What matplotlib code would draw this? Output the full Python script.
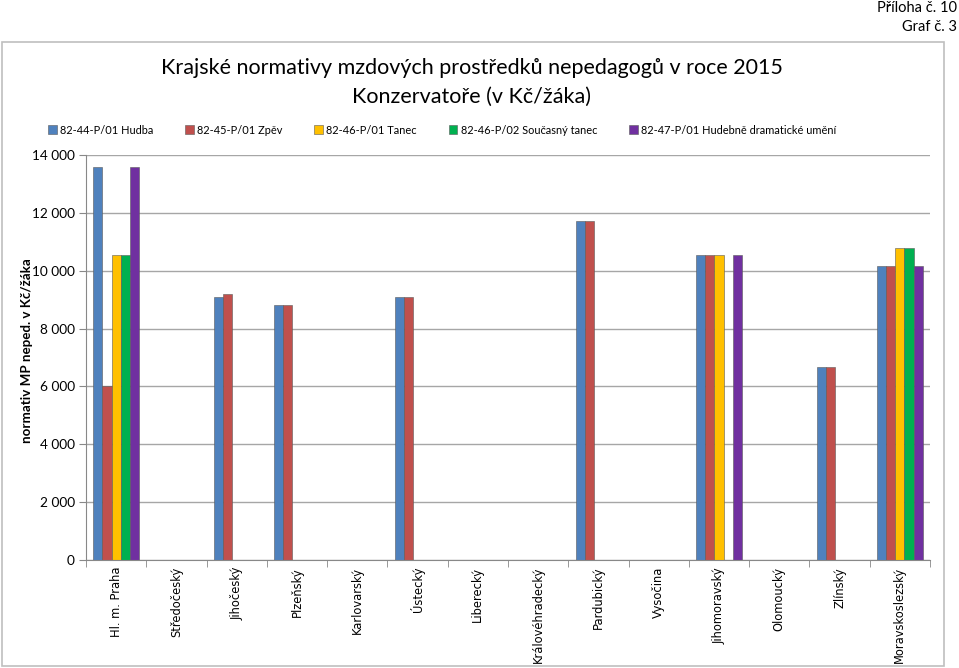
import matplotlib
matplotlib.use("Agg")
import matplotlib.pyplot as plt
import numpy as np
from matplotlib.patches import Rectangle

categories = ["Hl. m. Praha", "Středočeský", "Jihočeský", "Plzeňský", "Karlovarský",
              "Ústecký", "Liberecký", "Královéhradecký", "Pardubický", "Vysočina",
              "Jihomoravský", "Olomoucký", "Zlínský", "Moravskoslezský"]
nan = np.nan
hudba    = [13570, nan, 9085, 8830, nan, 9080, nan, nan, 11710, nan, 10550, nan, 6680, 10170]
zpev     = [6030,  nan, 9180, 8830, nan, 9080, nan, nan, 11710, nan, 10550, nan, 6680, 10170]
tanec    = [10550, nan, nan,  nan,  nan, nan,  nan, nan, nan,   nan, 10550, nan, nan,  10800]
soucasny = [10550, nan, nan,  nan,  nan, nan,  nan, nan, nan,   nan, nan,   nan, nan,  10800]
hdu      = [13570, nan, nan,  nan,  nan, nan,  nan, nan, nan,   nan, 10550, nan, nan,  10170]
series_names = ["82-44-P/01 Hudba", "82-45-P/01 Zpěv", "82-46-P/01 Tanec",
                "82-46-P/02 Současný tanec", "82-47-P/01 Hudebně dramatické umění"]
colors = ["#4F81BD", "#C0504D", "#FFC000", "#00B050", "#7030A0"]
yticks = [0, 2000, 4000, 6000, 8000, 10000, 12000, 14000]
ytick_labels = ["0", "2 000", "4 000", "6 000", "8 000", "10 000", "12 000", "14 000"]

W, H = 959, 668
fig = plt.figure(figsize=(W / 100, H / 100), dpi=100)
font = ["Lato", "DejaVu Sans"]

# chart border
fig.patches.append(Rectangle((2 / W, 1 - 666 / H), 942 / W, 624 / H, transform=fig.transFigure,
                             fill=False, edgecolor="#BFBFBF", linewidth=1.2))

ax = fig.add_axes([86 / W, 1 - 560 / H, (930 - 86) / W, (560 - 155) / H])
series = [hudba, zpev, tanec, soucasny, hdu]
x = np.arange(len(categories))
bw = 0.152
for i, (vals, c, name) in enumerate(zip(series, colors, series_names)):
    ax.bar(x + (i - 2) * bw, vals, width=bw, color=c, edgecolor="#5a5a5a", linewidth=0.4, label=name)

ax.set_xlim(-0.5, len(categories) - 0.5)
ax.set_ylim(0, 14000)
ax.set_yticks(yticks)
ax.set_yticklabels(ytick_labels, family=font, fontsize=9.8)
ax.yaxis.grid(True, color="#A6A6A6", linewidth=1.0)
ax.set_axisbelow(True)
for s in ["top", "right"]:
    ax.spines[s].set_visible(False)
for s in ["left", "bottom"]:
    ax.spines[s].set_color("#888888")
ax.tick_params(axis="y", length=5, color="#888888", pad=3)
ax.set_xticks(x)
ax.set_xticklabels(categories, rotation=90, family=["DejaVu Sans"], fontsize=8.3)
ax.tick_params(axis="x", length=0, pad=5)
ax.set_xticks(np.arange(-0.5, len(categories) + 0.5, 1), minor=True)
ax.tick_params(axis="x", which="minor", length=5, color="#888888")

fig.text(27 / W, 1 - 351 / H, "normativ MP neped. v Kč/žáka", rotation=90, ha="center", va="center",
         family=font, fontsize=9.6, fontweight="bold")

cx = 472 / W
fig.text(cx, 1 - 68 / H, "Krajské normativy mzdových prostředků nepedagogů v roce 2015",
         ha="center", va="center", family=font, fontsize=15.5)
fig.text(cx, 1 - 97 / H, "Konzervatoře (v Kč/žáka)",
         ha="center", va="center", family=font, fontsize=15.5)
fig.text(957 / W, 1 - 8 / H, "Příloha č. 10", ha="right", va="center", family=font, fontsize=10.5)
fig.text(957 / W, 1 - 27 / H, "Graf č. 3", ha="right", va="center", family=font, fontsize=10.5)

leg = fig.legend(loc="center", bbox_to_anchor=(442 / W, 1 - 130 / H), ncol=5, frameon=False,
                 prop={"family": font, "size": 7.9}, handlelength=0.8, handleheight=0.8,
                 handletextpad=0.3, columnspacing=2.9)

fig.savefig("out.png", dpi=100)
